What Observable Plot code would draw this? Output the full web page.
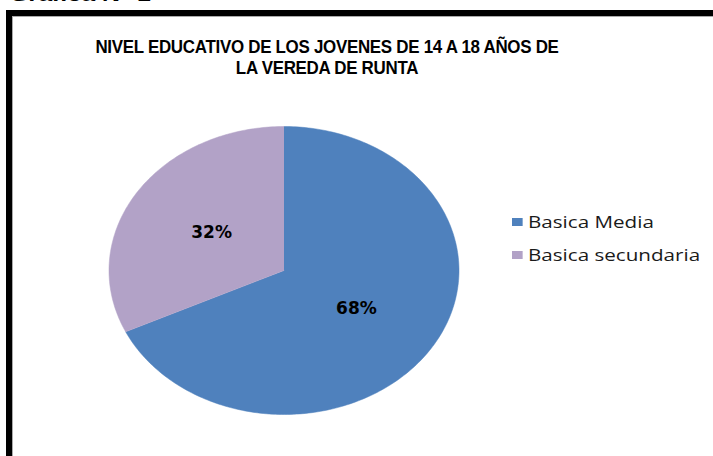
<!DOCTYPE html>
<html><head><meta charset="utf-8">
<script src="https://cdn.jsdelivr.net/npm/d3@7"></script>
<script src="https://cdn.jsdelivr.net/npm/@observablehq/plot@0.6"></script>
<style>
html,body{margin:0;padding:0;background:#fff;}
#wrap{position:relative;width:713px;height:456px;overflow:hidden;background:#fff;}
#cap{position:absolute;left:10px;top:-17px;font:italic bold 20px "Liberation Sans",Arial,sans-serif;color:#000;white-space:nowrap;transform:scaleX(1.25);transform-origin:left top;}
#frame{position:absolute;left:6px;top:10px;width:720px;height:460px;border-top:6px solid #000;border-left:6px solid #000;}
#frame-inner{position:absolute;left:0;top:0;right:0;bottom:0;border-top:1px solid #aaa;border-left:1px solid #aaa;}
#title{position:absolute;left:27px;width:600px;top:37px;text-align:center;font:bold 18px "Liberation Sans",Arial,sans-serif;line-height:21.4px;letter-spacing:-0.3px;color:#000;transform:scaleX(0.94);transform-origin:center top;}
#chart{position:absolute;left:0;top:0;}
#legend{position:absolute;left:512px;top:205.75px;width:200px;transform:scaleX(1.33);transform-origin:left top;}
#legend .lg-swatch{height:32.5px;padding-bottom:0 !important;align-items:center !important;overflow:visible;}
#legend .lg-swatch svg{margin-right:4px !important;}
#legend .lg-swatch, #legend span{overflow:visible !important;}
</style>
</head><body>
<div id="wrap">
  <div id="cap">Gráfica N° 1</div>
  <div id="frame"><div id="frame-inner"></div></div>
  <div id="title">NIVEL EDUCATIVO DE LOS JOVENES DE 14 A 18 AÑOS DE<br>LA VEREDA DE RUNTA</div>
  <div id="chart"></div>
  <div id="legend"></div>
</div>
<script>
const categories = ["Basica Media", "Basica secundaria"];
const values = [68, 32];
const labels = ["68%", "32%"];
const colors = ["#4F81BD", "#B2A2C7"];

// geometry derived from values (pie layout, clockwise from 12 o'clock)
const arcs = d3.pie().sort(null).value(d => d.value)(categories.map((c, i) => ({cat: c, value: values[i], label: labels[i]})));
const slicePts = [];
for (const a of arcs) {
  slicePts.push({cat: a.data.cat, x: 0, y: 0});
  const n = Math.max(2, Math.ceil((a.endAngle - a.startAngle) / (Math.PI / 180)));
  for (let k = 0; k <= n; k++) {
    const t = a.startAngle + (a.endAngle - a.startAngle) * k / n;
    slicePts.push({cat: a.data.cat, x: Math.sin(t), y: Math.cos(t)});
  }
}
const labelPts = arcs.map(a => {
  const m = (a.startAngle + a.endAngle) / 2;
  return {cat: a.data.cat, label: a.data.label, x: 0.49 * Math.sin(m), y: 0.49 * Math.cos(m)};
});

const cx = 283.5, cy = 270, rx = 175, ry = 144;
const chart = Plot.plot({
  width: 713, height: 456,
  marginTop: 0, marginRight: 0, marginBottom: 0, marginLeft: 0,
  x: {domain: [-1, 1], range: [cx - rx, cx + rx], axis: null},
  y: {domain: [-1, 1], range: [cy + ry, cy - ry], axis: null},
  color: {domain: categories, range: colors},
  style: {background: "transparent"},
  marks: [
    Plot.line(slicePts, {x: "x", y: "y", z: "cat", fill: "cat", stroke: "cat", strokeWidth: 0.5}),
    Plot.text(labelPts, {x: "x", y: "y", text: "label", fill: "#000", fontWeight: "bold", fontSize: 17, fontFamily: "DejaVu Sans"})
  ]
});
document.getElementById("chart").appendChild(chart);

const leg = Plot.legend({
  color: {type: "ordinal", domain: categories, range: colors},
  legend: "swatches", columns: 1, swatchSize: 8, className: "lg",
  style: {fontSize: "15.5px", fontFamily: "Open Sans", color: "#1a1a1a"}
});
document.getElementById("legend").appendChild(leg);
</script>
</body></html>
